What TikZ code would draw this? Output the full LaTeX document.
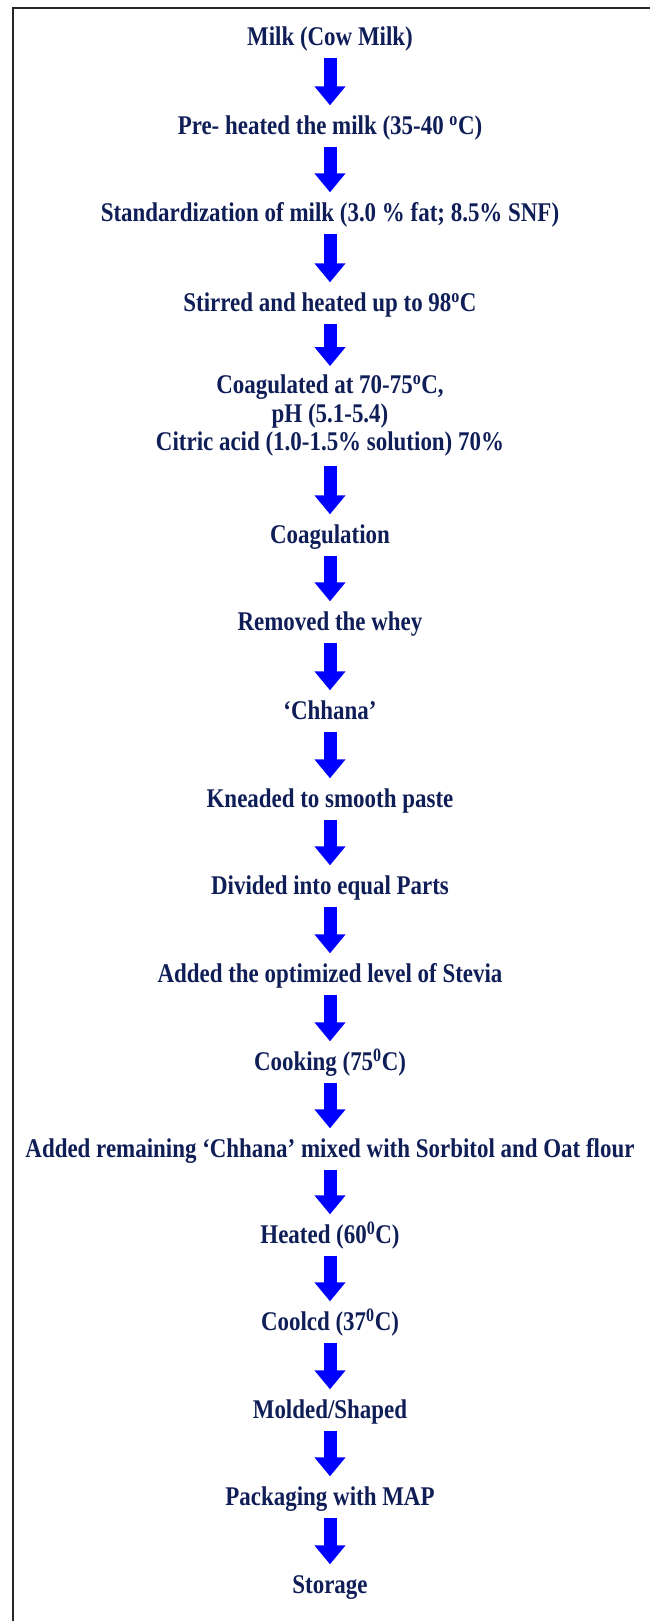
\documentclass[tikz,border=0pt]{standalone}
\usepackage{fontspec}
\setmainfont{Liberation Serif}[FakeStretch=0.85]
\usetikzlibrary{arrows.meta}
\definecolor{stepnavy}{RGB}{16,30,88}
\definecolor{arrowblue}{RGB}{0,0,255}

\tikzset{
  stepbox/.style={text=stepnavy, font=\fontsize{27}{28.5}\selectfont\bfseries,
    inner xsep=0pt, inner ysep=9pt, text height=20pt, text depth=3pt},
  flowarrow/.style={arrowblue, line width=13pt,
    -{Triangle[length=19pt,width=30pt]}}
}

\begin{document}
\begin{tikzpicture}[x=1pt, y=1pt]

  % page and frame
  \useasboundingbox (0,0) rectangle (650,-1621);
  \clip (0,0) rectangle (650,-1621);
  \fill[white] (0,0) rectangle (650,-1621);
  \draw[line width=2.2pt, black!85] (660,-8) -- (13,-8) -- (13,-1640);

  % ---- process steps (name / y / text) ----
  \foreach \name/\ypos/\lab in {
      milk/37/{Milk (Cow Milk)},
      preheat/126/{Pre- heated the milk (35-40 \textsuperscript{o}C)},
      stand/213/{Standardization of milk (3.0 \% fat; 8.5\% SNF)},
      stir/303/{Stirred and heated up to 98\textsuperscript{o}C},
      coagn/535/{Coagulation},
      whey/622/{Removed the whey},
      chhana/711/{‘Chhana’},
      knead/799/{Kneaded to smooth paste},
      divide/886/{Divided into equal Parts},
      stevia/974/{Added the optimized level of Stevia},
      cook/1062/{Cooking (75\textsuperscript{0}C)},
      oat/1149/{Added remaining ‘Chhana’ mixed with Sorbitol and Oat flour},
      heat/1235/{Heated (60\textsuperscript{0}C)},
      cool/1322/{Coolcd (37\textsuperscript{0}C)},
      mould/1410/{Molded/Shaped},
      pack/1497/{Packaging with MAP},
      store/1585/{Storage}
  }{
    \node[stepbox] (\name) at (330,-\ypos) {\lab};
  }

  % three-line step
  \node[stepbox, align=center, text height=, text depth=] (coag) at (330,-416)
      {Coagulated at 70-75\textsuperscript{o}C,\\ pH (5.1-5.4)\\ Citric acid (1.0-1.5\% solution) 70\%};

  % ---- arrows ----
  \foreach \a/\b in {milk/preheat, preheat/stand, stand/stir, stir/coag,
      coag/coagn, coagn/whey, whey/chhana, chhana/knead, knead/divide,
      divide/stevia, stevia/cook, cook/oat, oat/heat, heat/cool,
      cool/mould, mould/pack, pack/store}{
    \draw[flowarrow] (\a) -- (\b);
  }

\end{tikzpicture}
\end{document}
